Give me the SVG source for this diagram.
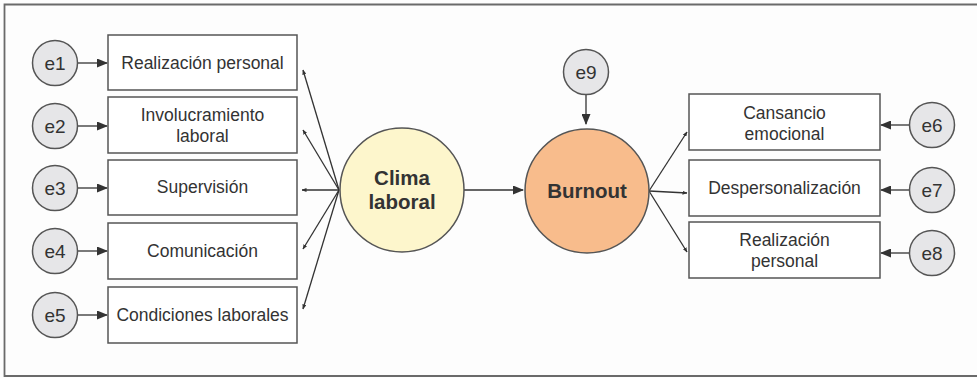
<svg xmlns="http://www.w3.org/2000/svg" width="977" height="378" viewBox="0 0 977 378">
<defs>
<marker id="ah" markerWidth="11" markerHeight="9" refX="10" refY="4.5" orient="auto" markerUnits="userSpaceOnUse">
<path d="M0,0 L11,4.5 L0,9 Z" fill="#333"/>
</marker>
<marker id="sm" markerWidth="5" markerHeight="4" refX="4.5" refY="2" orient="auto" markerUnits="userSpaceOnUse">
<path d="M0,0 L5,2 L0,4 Z" fill="#333"/>
</marker>
<style>
.box{fill:#fff;stroke:#555;stroke-width:1.5}
.err{fill:#e6e6e8;stroke:#555;stroke-width:1.5}
.t{font-family:"Liberation Sans",Arial,sans-serif;font-size:17.5px;fill:#333;text-anchor:middle}
.e{font-family:"Liberation Sans",Arial,sans-serif;font-size:19px;fill:#333;text-anchor:middle}
.b{font-family:"Liberation Sans",Arial,sans-serif;font-size:20.5px;font-weight:bold;fill:#333;text-anchor:middle}
.c{stroke:#333;stroke-width:1.3;fill:none}
</style>
</defs>
<rect x="0" y="0" width="977" height="378" fill="#fdfdfd"/>
<path d="M990,4.5 H4.5 V376 H990" fill="none" stroke="#6a6a6a" stroke-width="1.8"/>

<g id="connectors">
<line class="c" x1="77" y1="63" x2="107" y2="63" marker-end="url(#ah)"/>
<line class="c" x1="77" y1="126" x2="107" y2="126" marker-end="url(#ah)"/>
<line class="c" x1="77" y1="188" x2="107" y2="188" marker-end="url(#ah)"/>
<line class="c" x1="77" y1="251" x2="107" y2="251" marker-end="url(#ah)"/>
<line class="c" x1="77" y1="315" x2="107" y2="315" marker-end="url(#ah)"/>
<line class="c" x1="339" y1="190" x2="303" y2="70" marker-end="url(#sm)"/>
<line class="c" x1="339" y1="190" x2="303" y2="130" marker-end="url(#sm)"/>
<line class="c" x1="339" y1="190" x2="302" y2="190" marker-end="url(#sm)"/>
<line class="c" x1="339" y1="190" x2="303" y2="249" marker-end="url(#sm)"/>
<line class="c" x1="339" y1="190" x2="303" y2="309" marker-end="url(#sm)"/>
<line class="c" x1="464" y1="190" x2="523" y2="190" marker-end="url(#ah)"/>
<line class="c" x1="586" y1="94" x2="586" y2="124" marker-end="url(#ah)"/>
<line class="c" x1="649" y1="191" x2="687" y2="132" marker-end="url(#sm)"/>
<line class="c" x1="649" y1="191" x2="687" y2="193" marker-end="url(#sm)"/>
<line class="c" x1="649" y1="191" x2="687" y2="252" marker-end="url(#sm)"/>
<line class="c" x1="910" y1="125" x2="881" y2="125" marker-end="url(#ah)"/>
<line class="c" x1="910" y1="190" x2="881" y2="190" marker-end="url(#ah)"/>
<line class="c" x1="910" y1="253" x2="881" y2="253" marker-end="url(#ah)"/>
</g>

<g id="e1"><circle class="err" cx="55" cy="63" r="22.5"/><text class="e" x="55" y="70">e1</text></g>
<g id="e2"><circle class="err" cx="55" cy="126" r="22.5"/><text class="e" x="55" y="133">e2</text></g>
<g id="e3"><circle class="err" cx="55" cy="188" r="22.5"/><text class="e" x="55" y="195">e3</text></g>
<g id="e4"><circle class="err" cx="55" cy="251" r="22.5"/><text class="e" x="55" y="258">e4</text></g>
<g id="e5"><circle class="err" cx="55" cy="315" r="22.5"/><text class="e" x="55" y="322">e5</text></g>

<g id="realizacion1"><rect class="box" x="108" y="35" width="189" height="55"/><text class="t" x="202.5" y="69">Realización personal</text></g>
<g id="involucramiento"><rect class="box" x="108" y="97" width="189" height="56"/><text class="t" x="202.5" y="121">Involucramiento</text><text class="t" x="202.5" y="142">laboral</text></g>
<g id="supervision"><rect class="box" x="108" y="160" width="189" height="55"/><text class="t" x="202.5" y="193">Supervisión</text></g>
<g id="comunicacion"><rect class="box" x="108" y="223" width="189" height="56"/><text class="t" x="202.5" y="257">Comunicación</text></g>
<g id="condiciones"><rect class="box" x="108" y="287" width="189" height="56"/><text class="t" x="202.5" y="321">Condiciones laborales</text></g>

<g id="clima"><circle cx="402" cy="190" r="62" fill="#fdf6cc" stroke="#555" stroke-width="1.5"/><text class="b" x="402" y="185">Clima</text><text class="b" x="402" y="209">laboral</text></g>
<g id="burnout"><circle cx="587" cy="191" r="62" fill="#f8bc8c" stroke="#555" stroke-width="1.5"/><text class="b" x="587" y="198">Burnout</text></g>
<g id="e9"><circle class="err" cx="586" cy="72" r="22.5"/><text class="e" x="586" y="79">e9</text></g>

<g id="cansancio"><rect class="box" x="689" y="94" width="191" height="56"/><text class="t" x="784.5" y="119">Cansancio</text><text class="t" x="784.5" y="140">emocional</text></g>
<g id="despersonalizacion"><rect class="box" x="689" y="160" width="191" height="56"/><text class="t" x="784.5" y="194">Despersonalización</text></g>
<g id="realizacion2"><rect class="box" x="689" y="222" width="191" height="56"/><text class="t" x="784.5" y="246">Realización</text><text class="t" x="784.5" y="267">personal</text></g>

<g id="e6"><circle class="err" cx="932" cy="125" r="22.5"/><text class="e" x="932" y="132">e6</text></g>
<g id="e7"><circle class="err" cx="932" cy="190" r="22.5"/><text class="e" x="932" y="197">e7</text></g>
<g id="e8"><circle class="err" cx="932" cy="253" r="22.5"/><text class="e" x="932" y="260">e8</text></g>
</svg>
